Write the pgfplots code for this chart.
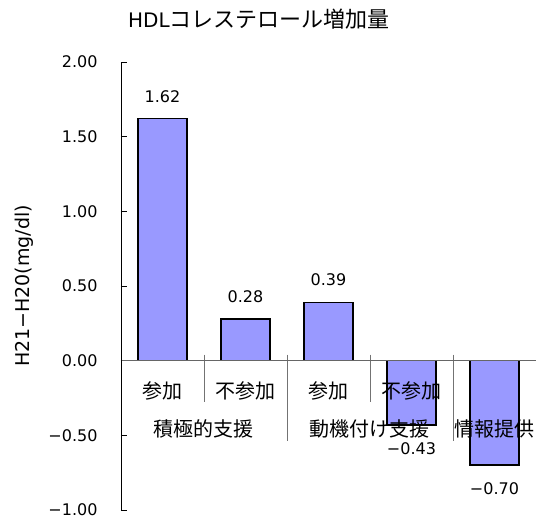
\documentclass[border=0pt]{standalone}
\usepackage{fontspec}
\setmainfont{DejaVu Sans}
\newfontfamily\jp{Noto Sans CJK JP}
\usepackage{pgfplots}
\pgfplotsset{compat=1.18}
\usepackage{pgfplotstable}
\definecolor{barblue}{HTML}{9999FF}

% positive changes
\pgfplotstableread{
x y label
0 1.62 1.62
1 0.28 0.28
2 0.39 0.39
}\postable
% negative changes
\pgfplotstableread{
x y label
3 -0.43 −0.43
4 -0.70 −0.70
}\negtable

\begin{document}
\begin{tikzpicture}
\path[use as bounding box] (-121pt,-12pt) rectangle (415pt,510pt);
\begin{axis}[
  at={(0pt,0pt)}, anchor=south west,
  scale only axis, width=415pt, height=448pt,
  xmin=-0.5, xmax=4.5, ymin=-1, ymax=2,
  axis x line*=middle, axis y line*=left,
  axis on top,
  x axis line style={black!60, line width=0.8pt},
  y axis line style={black, line width=0.8pt},
  ytick={-1,-0.5,0,0.5,1,1.5,2},
  yticklabels={−1.00,−0.50,0.00,0.50,1.00,1.50,2.00},
  yticklabel style={font=\fontsize{16}{19}\selectfont},
  yticklabel shift=20pt,
  ytick style={black, line width=0.8pt},
  tick align=inside, major tick length=6pt,
  xtick={0,1,2,3,4},
  xticklabels={参加,不参加,参加,不参加,{}},
  xtick style={draw=none},
  xticklabel style={font=\jp\fontsize{20}{24}\selectfont, anchor=center, yshift=-30pt},
  extra x ticks={0.5,2.5,4},
  extra x tick labels={積極的支援,動機付け支援,情報提供},
  extra x tick style={major tick length=0pt, grid=none, xticklabel style={yshift=-38pt}},
  ylabel={H21−H20(mg/dl)},
  ylabel style={font=\fontsize{19}{22}\selectfont, at={(axis description cs:-0.234,0.5)}, anchor=center},
  title={\fontsize{20}{24}\selectfont HDL{\jp\fontsize{22}{24}\selectfont コレステロール増加量}},
  title style={at={(axis description cs:0.3325,1.0826)}, anchor=center},
  clip=false,
]
\addplot[ybar, bar width=49pt, bar shift=0pt, fill=barblue, draw=black, line width=1.5pt,
  point meta=explicit symbolic,
  nodes near coords={\pgfplotspointmeta},
  every node near coord/.append style={font=\fontsize{16}{19}\selectfont, anchor=south, inner ysep=15.5pt, inner xsep=0pt, text=black}]
  table[x=x, y=y, meta=label] {\postable};
\addplot[ybar, bar width=49pt, bar shift=0pt, fill=barblue, draw=black, line width=1.5pt,
  point meta=explicit symbolic,
  nodes near coords={\pgfplotspointmeta},
  every node near coord/.append style={font=\fontsize{16}{19}\selectfont, anchor=north, inner ysep=17pt, inner xsep=0pt, text=black}]
  table[x=x, y=y, meta=label] {\negtable};
\draw[black!55, line width=0.8pt] (axis cs:0.5,0.04) -- (axis cs:0.5,-0.275);
\draw[black!55, line width=0.8pt] (axis cs:1.5,0.04) -- (axis cs:1.5,-0.536);
\draw[black!55, line width=0.8pt] (axis cs:2.5,0.04) -- (axis cs:2.5,-0.275);
\draw[black!55, line width=0.8pt] (axis cs:3.5,0.04) -- (axis cs:3.5,-0.536);
\end{axis}
\end{tikzpicture}
\end{document}
